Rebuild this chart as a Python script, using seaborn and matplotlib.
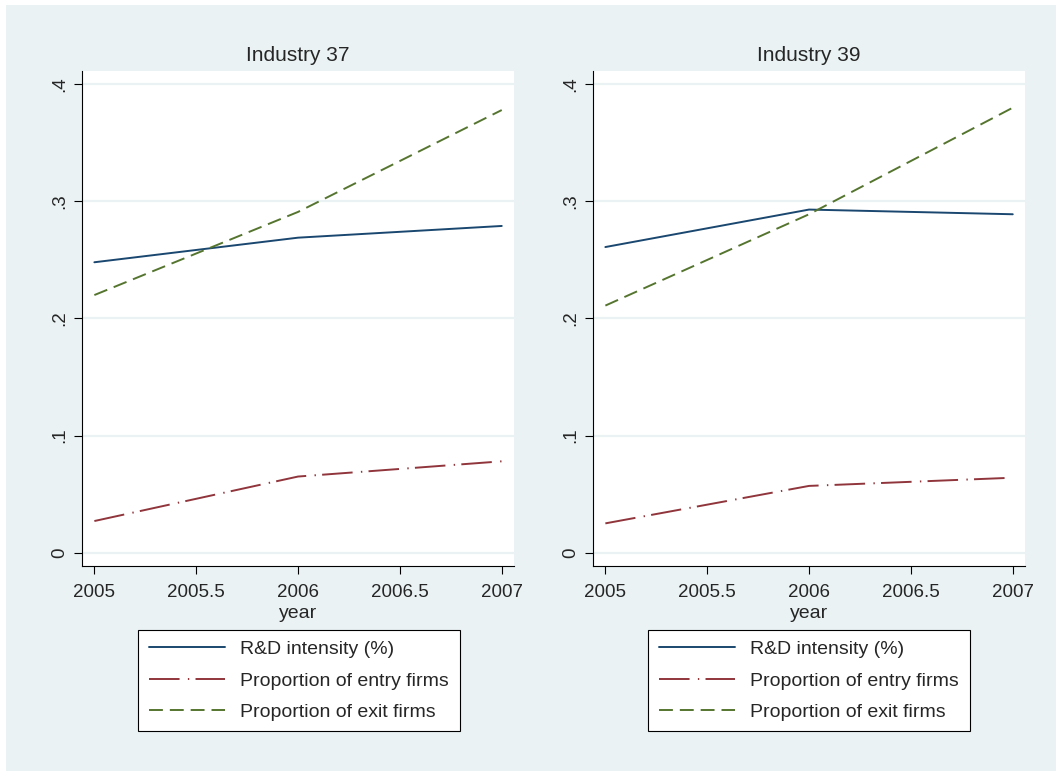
import numpy as np
import pandas as pd
import matplotlib
matplotlib.use('Agg')
import matplotlib.pyplot as plt
from matplotlib.patches import Rectangle
import seaborn as sns

sns.set_theme(style='white')
plt.rcParams['font.family'] = ['Liberation Sans', 'DejaVu Sans']
plt.rcParams['lines.scale_dashes'] = False

# =============================================
# DATA
# =============================================
years = [2005, 2006, 2007]
panels = ['Industry 37', 'Industry 39']
series_labels = ['R&D intensity (%)', 'Proportion of entry firms', 'Proportion of exit firms']

rd_37 = [0.248, 0.269, 0.279]
entry_37 = [0.027, 0.065, 0.078]
exit_37 = [0.220, 0.291, 0.378]

rd_39 = [0.261, 0.293, 0.289]
entry_39 = [0.025, 0.057, 0.064]
exit_39 = [0.211, 0.289, 0.380]

yticks = [0, 0.1, 0.2, 0.3, 0.4]
ytick_labels = ['0', '.1', '.2', '.3', '.4']
xticks = [2005, 2005.5, 2006, 2006.5, 2007]
xtick_labels = ['2005', '2005.5', '2006', '2006.5', '2007']

# Stata s2color look
bg = '#EAF2F3'
colors = ['#1A476F', '#90353B', '#55752F']
styles = ['-', (0, (22, 6, 1, 4.5)), (0, (10, 5))]

panel_data = {
    'Industry 37': [rd_37, entry_37, exit_37],
    'Industry 39': [rd_39, entry_39, exit_39],
}

# =============================================
# FIGURE
# =============================================
fig = plt.figure(figsize=(10.56, 7.71), dpi=100, facecolor='white')
fig.patches.append(Rectangle((6 / 1056, 0), 1 - 6 / 1056, 1 - 5 / 771,
                             transform=fig.transFigure, facecolor=bg,
                             edgecolor='none', zorder=-10))

ax_left = [0.0774, 0.5613]
leg_x = [0.2831, 0.766]

for i, name in enumerate(panels):
    ax = fig.add_axes([ax_left[i], 0.2665, 0.4097, 0.6418])
    ax.set_facecolor('white')
    for vals, lab, c, ls in zip(panel_data[name], series_labels, colors, styles):
        sns.lineplot(x=years, y=vals, ax=ax, color=c, linestyle=ls,
                     linewidth=1.4, label=lab)

    ax.set_xlim(2004.938, 2007.062)
    ax.set_ylim(-0.011, 0.4116)
    ax.set_xticks(xticks)
    ax.set_xticklabels(xtick_labels, fontsize=13.5)
    ax.set_yticks(yticks)
    ax.set_yticklabels(ytick_labels, fontsize=13.5, rotation=90, va='center')
    ax.tick_params(axis='both', which='major', length=6, width=0.8,
                   color='black', bottom=True, left=True, pad=4)
    ax.tick_params(axis='x', pad=7)
    ax.yaxis.grid(True, color=bg, linewidth=1.6)
    ax.xaxis.grid(False)
    ax.set_axisbelow(True)
    for side in ['top', 'right']:
        ax.spines[side].set_visible(False)
    for side in ['left', 'bottom']:
        ax.spines[side].set_color('black')
        ax.spines[side].set_linewidth(0.8)

    ax.set_title(name, fontsize=15, pad=7)
    ax.set_xlabel('year', fontsize=14, labelpad=3)
    ax.set_ylabel('')

    leg = ax.legend(loc='upper center', bbox_to_anchor=(leg_x[i], 0.1829),
                    bbox_transform=fig.transFigure, frameon=True, fancybox=False,
                    edgecolor='black', framealpha=1, fontsize=14,
                    handlelength=3.9, handletextpad=0.8, borderpad=0.55,
                    labelspacing=0.7, borderaxespad=0)
    leg.get_frame().set_linewidth(0.8)

plt.savefig('out.png', dpi=100, facecolor=fig.get_facecolor())
plt.close()
